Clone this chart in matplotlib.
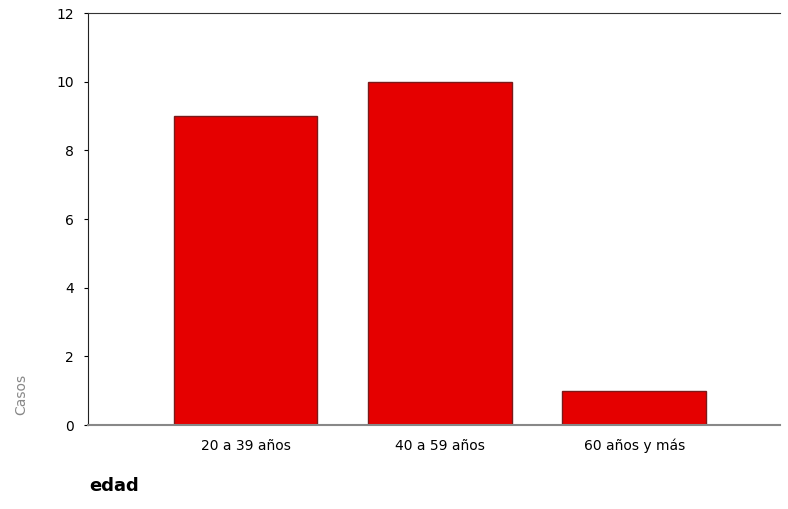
#!/usr/bin/env python3
import matplotlib
matplotlib.use("Agg")
import matplotlib.pyplot as plt

# data
categories = ["20 a 39 años", "40 a 59 años", "60 años y más"]
counts = [9, 10, 1]
yticks = [0, 2, 4, 6, 8, 10, 12]

plt.rcParams["font.family"] = ["DejaVu Sans"]

fig = plt.figure(figsize=(7.88, 5.09), dpi=100)
ax = fig.add_axes([0.1117, 0.165, 0.878, 0.809])

x = list(range(len(categories)))
ax.bar(x, counts, width=0.74, color="#e50000", edgecolor="#7a1a1a", linewidth=1.0)

ax.set_xlim(-0.81, 2.75)
ax.set_ylim(0, 12)
ax.set_yticks(yticks)
ax.set_yticklabels([str(v) for v in yticks], fontsize=10)
ax.set_xticks(x)
ax.set_xticklabels(categories, fontsize=10)
ax.tick_params(axis="y", length=3, width=0.8, pad=7)
ax.tick_params(axis="x", length=0, pad=10)

ax.spines["right"].set_visible(False)
ax.spines["left"].set_color("#222222")
ax.spines["top"].set_color("#333333")
ax.spines["bottom"].set_color("#888888")
ax.spines["bottom"].set_linewidth(1.5)

fig.text(0.027, 0.225, "Casos", rotation=90, fontsize=10, color="#888888",
         ha="center", va="center")
fig.text(0.113, 0.045, "edad", fontsize=13, fontweight="bold", ha="left", va="center")

fig.savefig("out.png", dpi=100)
